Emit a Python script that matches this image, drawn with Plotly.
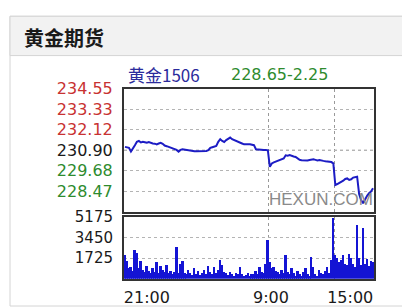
import plotly.graph_objects as go

# ---------------- data ----------------
title_text = "黄金期货"
contract = "黄金1506"
prev_close = 230.90

prices = [
    231.10, 231.08, 231.04, 230.82, 230.98, 231.19, 231.40, 231.45, 231.36, 231.40,
    231.37, 231.34, 231.38, 231.33, 231.30, 231.29, 231.25, 231.30, 231.34, 231.28,
    231.18, 231.14, 231.10, 231.06, 231.02, 231.00, 230.92, 230.82, 230.92, 230.96,
    230.94, 230.90, 230.86, 230.84, 230.84, 230.84, 230.84, 230.84, 230.84, 230.84,
    230.86, 230.86, 230.90, 231.04, 231.08, 231.14, 231.16, 231.40, 231.55, 231.45,
    231.39, 231.50, 231.60, 231.65, 231.55, 231.49, 231.45, 231.41, 231.35, 231.30,
    231.25, 231.27, 231.25, 231.26, 231.24, 231.20, 230.96, 230.94, 230.92, 230.92,
    230.92, 230.92, 230.90, 229.92, 230.12, 230.18, 230.22, 230.27, 230.30, 230.35,
    230.41, 230.60, 230.58, 230.61, 230.55, 230.53, 230.50, 230.40, 230.33, 230.31,
    230.30, 230.31, 230.29, 230.32, 230.35, 230.36, 230.33, 230.30, 230.32, 230.28,
    230.27, 230.25, 230.24, 230.22, 230.20, 230.12, 228.84, 228.90, 228.96, 229.04,
    229.10, 229.20, 229.23, 229.14, 229.18, 229.28, 229.30, 229.33, 228.30, 227.95,
    227.76, 228.02, 228.20, 228.35, 228.45, 228.65,
]

volumes = [
    2000, 1500, 900, 1000, 700, 2400, 2200, 900, 1500, 800,
    600, 1100, 700, 500, 900, 600, 1400, 500, 1100, 800,
    600, 1200, 500, 700, 400, 600, 2700, 500, 1300, 1500,
    500, 400, 800, 500, 350, 900, 400, 700, 350, 500,
    800, 400, 1100, 600, 400, 1000, 500, 800, 1600, 1200,
    600, 500, 350, 600, 400, 300, 500, 400, 1050, 400,
    300, 350, 500, 300, 450, 400, 700, 400, 1000, 600,
    500, 1300, 3240, 1400, 900, 1000, 700, 600, 400, 800,
    500, 2000, 600, 400, 900, 500, 300, 700, 400, 300,
    600, 900, 400, 300, 1850, 1000, 400, 300, 800, 500,
    400, 700, 1000, 500, 1600, 5100, 2000, 1800, 1400, 1600,
    2000, 1300, 1200, 2100, 1800, 1300, 1000, 4530, 1800, 1200,
    4290, 1300, 1700, 1100, 1500, 1400,
]

price_ticks = [234.55, 233.33, 232.12, 230.90, 229.68, 228.47]
price_min, price_max = 227.25, 234.55
vol_ticks = [1725, 3450, 5175]
vol_max = 5175
session_breaks = [72.5, 105.5]          # 9:00 and 15:00 boundaries (point index)
time_label_pos = [11, 73.6, 113.5]
time_labels = ["21:00", "9:00", "15:00"]
watermark = "HEXUN.COM"

# ---------------- figure ----------------
idx = list(range(len(prices)))
W, H = 402, 307
def px(x): return x / W
def py(y): return 1 - y / H

RED, GREEN, BLACK = "#c83232", "#2e8b2e", "#1a1a1a"
def tick_color(v):
    if abs(v - prev_close) < 1e-6:
        return BLACK
    return RED if v > prev_close else GREEN
price_ticktext = [f'<span style="color:{tick_color(v)}">{v:.2f}</span>' for v in price_ticks]

fig = go.Figure()
fig.add_trace(go.Scatter(x=idx, y=prices, mode="lines",
                         line=dict(color="#1c1cc4", width=2),
                         xaxis="x", yaxis="y", hoverinfo="skip"))
fig.add_trace(go.Bar(x=idx, y=volumes, marker=dict(color="#1414d4", line=dict(width=0)),
                     xaxis="x2", yaxis="y2", hoverinfo="skip"))

last = prices[-1]
chg = last - prev_close
quote_text = f"{last:.2f}{chg:+.2f}" if chg < 0 else f"{last:.2f}+{chg:.2f}"

tick_font = dict(family="DejaVu Sans", size=15, color=BLACK)
frame = dict(showline=True, mirror=True, linecolor="#333333", linewidth=2)
xr = [-0.5, len(prices) - 0.5]

fig.update_layout(
    width=W, height=H, autosize=False,
    margin=dict(l=0, r=0, t=0, b=0),
    paper_bgcolor="white", plot_bgcolor="white",
    showlegend=False, bargap=0,
    xaxis=dict(domain=[px(124), px(374)], range=xr, anchor="y",
               tickvals=session_breaks, showticklabels=False, ticks="",
               showgrid=True, gridcolor="#999999", griddash="dot", gridwidth=1,
               zeroline=False, **frame),
    yaxis=dict(domain=[py(209), py(82)], range=[price_min, price_max], anchor="x",
               tickvals=price_ticks, ticktext=price_ticktext, ticks="",
               ticklabelstandoff=6, tickfont=dict(family="DejaVu Sans", size=16),
               showgrid=True, gridcolor="#b4b4b4", griddash="dot", gridwidth=1,
               zeroline=False, **frame),
    xaxis2=dict(domain=[px(124), px(374)], range=xr, anchor="y2",
                tickvals=time_label_pos, ticktext=time_labels, ticks="",
                tickfont=dict(family="DejaVu Sans", size=16, color=BLACK),
                ticklabelstandoff=3, showgrid=False,
                minor=dict(tickvals=session_breaks, showgrid=True, gridcolor="#999999",
                           griddash="dot", gridwidth=1, ticks=""),
                zeroline=False, **frame),
    yaxis2=dict(domain=[py(278), py(214)], range=[0, vol_max], anchor="x2",
                tickvals=vol_ticks, ticks="", ticklabelstandoff=6,
                tickfont=tick_font,
                showgrid=True, gridcolor="#b4b4b4", griddash="dot", gridwidth=1,
                zeroline=False, **frame),
)

# previous-close reference line (darker)
fig.add_shape(type="line", xref="x domain", yref="y", x0=0, x1=1,
              y0=prev_close, y1=prev_close,
              line=dict(color="#808080", width=1, dash="dot"), layer="below")

# panel decoration
fig.add_shape(type="rect", xref="paper", yref="paper",
              x0=px(10), x1=1.02, y0=py(306), y1=py(7.5),
              line=dict(color="#d4d4d4", width=1), fillcolor="rgba(0,0,0,0)", layer="below")
fig.add_shape(type="rect", xref="paper", yref="paper",
              x0=px(10), x1=1.02, y0=py(48), y1=py(7.5),
              line=dict(color="#d4d4d4", width=1), fillcolor="#f2f2f2", layer="below")

fig.add_annotation(text=f"<b>{title_text}</b>", xref="paper", yref="paper",
                   x=px(22), y=py(29), xanchor="left", yanchor="middle", showarrow=False,
                   font=dict(family="Noto Sans CJK SC", size=20, color="#1a1a1a"))
fig.add_annotation(text=contract, xref="paper", yref="paper",
                   x=px(126), y=py(67), xanchor="left", yanchor="middle", showarrow=False,
                   font=dict(family="Noto Sans CJK SC", size=17, color="#2b2b9c"))
fig.add_annotation(text=quote_text, xref="paper", yref="paper",
                   x=px(229), y=py(67), xanchor="left", yanchor="middle", showarrow=False,
                   font=dict(family="DejaVu Sans", size=16, color=GREEN))
fig.add_annotation(text=watermark, xref="paper", yref="paper",
                   x=px(267), y=py(196), xanchor="left", yanchor="middle", showarrow=False,
                   font=dict(family="Liberation Sans", size=17, color="#8a8a8a"))

fig.write_html("out.html", config={"displayModeBar": False},
               post_script="document.body.style.margin='0';document.body.style.overflow='hidden';")
